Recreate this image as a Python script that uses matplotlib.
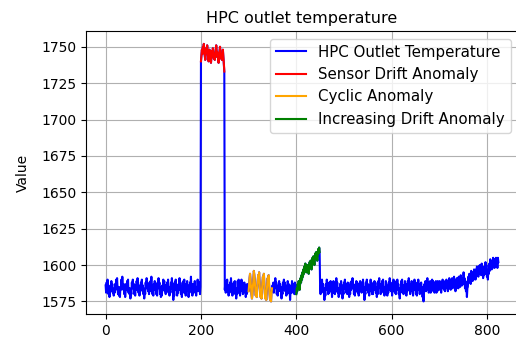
import numpy as np
import matplotlib
matplotlib.use("Agg")
import matplotlib.pyplot as plt

# Segment values (index increments by 1)
normal_1 = [
    1586, 1581, 1588, 1585, 1590, 1583, 1580, 1584, 1578, 1583,
    1586, 1582, 1589, 1584, 1587, 1581, 1583, 1579, 1584, 1581,
    1587, 1583, 1590, 1586, 1591, 1584, 1580, 1585, 1579, 1582,
    1578, 1585, 1583, 1590, 1585, 1592, 1586, 1583, 1587, 1580,
    1584, 1578, 1582, 1587, 1583, 1589, 1586, 1590, 1581, 1584,
    1580, 1584, 1577, 1582, 1580, 1588, 1584, 1590, 1585, 1587,
    1580, 1585, 1579, 1586, 1583, 1589, 1586, 1591, 1584, 1581,
    1585, 1579, 1586, 1582, 1588, 1585, 1590, 1583, 1586, 1580,
    1584, 1577, 1583, 1580, 1588, 1584, 1591, 1585, 1588, 1582,
    1586, 1580, 1585, 1582, 1589, 1586, 1592, 1584, 1580, 1584,
    1579, 1587, 1583, 1589, 1584, 1587, 1580, 1584, 1579, 1588,
    1584, 1591, 1586, 1588, 1580, 1585, 1578, 1582, 1579, 1586,
    1583, 1590, 1585, 1589, 1582, 1586, 1580, 1585, 1582, 1588,
    1584, 1590, 1581, 1585, 1579, 1584, 1581, 1588, 1584, 1591,
    1585, 1587, 1576, 1582, 1579, 1588, 1583, 1590, 1584, 1586,
    1579, 1584, 1581, 1587, 1583, 1591, 1586, 1588, 1580, 1583,
    1578, 1586, 1581, 1589, 1585, 1590, 1581, 1585, 1579, 1587,
    1582, 1589, 1583, 1586, 1578, 1584, 1581, 1588, 1585, 1592,
    1584, 1587, 1579, 1585, 1581, 1587, 1583, 1589, 1581, 1584,
    1579, 1585, 1582, 1590, 1584, 1587, 1582, 1588, 1580, 1585,
]
sensor_drift = [
    1740, 1744, 1748, 1745, 1750, 1747, 1752, 1748, 1744, 1741,
    1745, 1749, 1746, 1751, 1747, 1743, 1740, 1744, 1748, 1745,
    1742, 1739, 1743, 1747, 1744, 1749, 1746, 1742, 1745, 1741,
    1744, 1748, 1751, 1747, 1743, 1746, 1742, 1739, 1743, 1747,
    1750, 1746, 1742, 1745, 1741, 1744, 1748, 1743, 1739, 1733,
]
normal_2 = [
    1583, 1587, 1581, 1589, 1585, 1590, 1582, 1586, 1579, 1584,
    1581, 1588, 1583, 1591, 1585, 1587, 1579, 1584, 1581, 1588,
    1583, 1589, 1580, 1584, 1577, 1583, 1580, 1589, 1584, 1590,
    1581, 1586, 1579, 1585, 1582, 1590, 1585, 1588, 1580, 1586,
    1581, 1588, 1583, 1586, 1578, 1583, 1580, 1587, 1582, 1586,
]
cyclic = [
    1582, 1586, 1591, 1594, 1590, 1585, 1580, 1577, 1580, 1585,
    1590, 1596, 1593, 1589, 1583, 1579, 1582, 1578, 1584, 1589,
    1593, 1590, 1595, 1588, 1582, 1578, 1581, 1577, 1583, 1588,
    1592, 1589, 1594, 1587, 1581, 1577, 1580, 1576, 1582, 1587,
    1591, 1588, 1593, 1586, 1580, 1576, 1579, 1575, 1581, 1584,
]
normal_3 = [
    1586, 1583, 1588, 1581, 1587, 1584, 1591, 1585, 1588, 1580,
    1584, 1579, 1586, 1582, 1589, 1583, 1587, 1582, 1585, 1577,
    1583, 1580, 1588, 1583, 1590, 1585, 1588, 1582, 1586, 1579,
    1584, 1580, 1589, 1584, 1587, 1581, 1584, 1576, 1582, 1586,
    1581, 1589, 1584, 1587, 1581, 1585, 1580, 1588, 1583, 1586,
]
increasing_drift = [
    1580, 1584, 1582, 1587, 1585, 1589, 1586, 1583, 1587, 1591,
    1588, 1593, 1590, 1595, 1592, 1597, 1594, 1599, 1596, 1601,
    1598, 1595, 1599, 1596, 1600, 1597, 1594, 1598, 1602, 1599,
    1603, 1600, 1597, 1601, 1605, 1602, 1606, 1603, 1600, 1604,
    1608, 1605, 1609, 1606, 1603, 1607, 1611, 1608, 1612, 1609,
]
normal_4 = [
    1585, 1580, 1587, 1583, 1590, 1584, 1587, 1581, 1584, 1576,
    1582, 1579, 1587, 1583, 1590, 1585, 1588, 1580, 1585, 1581,
    1588, 1584, 1589, 1582, 1585, 1578, 1584, 1581, 1589, 1584,
    1587, 1580, 1585, 1582, 1591, 1585, 1588, 1581, 1584, 1578,
    1583, 1580, 1587, 1583, 1589, 1583, 1586, 1577, 1583, 1580,
    1588, 1584, 1590, 1584, 1587, 1581, 1586, 1580, 1588, 1583,
    1586, 1578, 1584, 1580, 1588, 1583, 1589, 1584, 1591, 1585,
    1587, 1580, 1585, 1579, 1586, 1582, 1589, 1584, 1588, 1581,
    1584, 1579, 1587, 1582, 1589, 1583, 1586, 1581, 1588, 1584,
    1590, 1583, 1585, 1576, 1582, 1580, 1588, 1583, 1590, 1584,
    1587, 1581, 1585, 1579, 1586, 1582, 1590, 1584, 1587, 1580,
    1586, 1580, 1588, 1583, 1589, 1583, 1588, 1581, 1584, 1578,
    1585, 1580, 1589, 1584, 1591, 1585, 1587, 1580, 1586, 1582,
    1589, 1584, 1590, 1581, 1585, 1579, 1584, 1581, 1589, 1583,
    1586, 1579, 1585, 1581, 1588, 1583, 1591, 1585, 1588, 1582,
    1586, 1579, 1584, 1582, 1590, 1584, 1587, 1581, 1585, 1580,
    1589, 1583, 1590, 1584, 1587, 1580, 1583, 1577, 1584, 1581,
    1589, 1585, 1590, 1582, 1586, 1580, 1586, 1583, 1589, 1581,
    1584, 1579, 1587, 1582, 1589, 1584, 1591, 1583, 1586, 1580,
    1587, 1582, 1589, 1583, 1586, 1579, 1588, 1583, 1590, 1584,
    1587, 1580, 1584, 1579, 1588, 1583, 1590, 1584, 1587, 1580,
    1586, 1581, 1588, 1582, 1585, 1578, 1584, 1575, 1582, 1587,
    1584, 1589, 1582, 1588, 1583, 1591, 1585, 1588, 1581, 1586,
    1583, 1589, 1581, 1586, 1582, 1590, 1585, 1589, 1583, 1587,
    1581, 1588, 1583, 1589, 1581, 1586, 1582, 1589, 1584, 1588,
]
tail = [
    1583, 1589, 1584, 1587, 1581, 1588, 1584, 1590, 1585, 1589,
    1583, 1587, 1582, 1589, 1584, 1590, 1585, 1588, 1582, 1589,
    1586, 1591, 1584, 1589, 1583, 1590, 1586, 1591, 1584, 1588,
    1585, 1592, 1586, 1590, 1582, 1588, 1584, 1591, 1586, 1589,
    1584, 1592, 1587, 1591, 1585, 1593, 1588, 1591, 1586, 1590,
    1587, 1595, 1589, 1591, 1584, 1589, 1582, 1585, 1578, 1584,
    1585, 1592, 1588, 1594, 1589, 1593, 1587, 1596, 1590, 1593,
    1589, 1595, 1590, 1597, 1592, 1596, 1590, 1597, 1593, 1599,
    1594, 1598, 1592, 1599, 1594, 1600, 1595, 1598, 1593, 1601,
    1596, 1599, 1591, 1596, 1593, 1599, 1594, 1602, 1597, 1600,
    1592, 1595, 1590, 1597, 1594, 1601, 1596, 1604, 1599, 1602,
    1597, 1603, 1598, 1605, 1600, 1604, 1598, 1603, 1600, 1605,
    1599, 1603, 1598, 1605, 1602,
]

segments = [
    ("normal", normal_1), ("sensor", sensor_drift), ("normal", normal_2),
    ("cyclic", cyclic), ("normal", normal_3), ("increasing", increasing_drift),
    ("normal", normal_4), ("normal", tail),
]

values = np.concatenate([np.array(s, dtype=float) for _, s in segments])
x = np.arange(len(values))

ranges = {}
start = 0
for name, seg in segments:
    if name != "normal":
        ranges[name] = (start, start + len(seg))
    start += len(seg)

fig = plt.figure(figsize=(5.16, 3.43), dpi=100)
ax = fig.add_axes([86 / 516, 1 - 314.3 / 343, (518 - 86) / 516, (314.3 - 31) / 343])

ax.plot(x, values, color="blue", label="HPC Outlet Temperature")
s0, s1 = ranges["sensor"]
ax.plot(x[s0:s1], values[s0:s1], color="red", label="Sensor Drift Anomaly")
c0, c1 = ranges["cyclic"]
ax.plot(x[c0:c1], values[c0:c1], color="orange", label="Cyclic Anomaly")
d0, d1 = ranges["increasing"]
ax.plot(x[d0:d1], values[d0:d1], color="green", label="Increasing Drift Anomaly")

ax.set_title("HPC outlet temperature", fontsize=11.5)
ax.set_ylabel("Value", labelpad=8)
ax.grid(True)
ax.legend(loc="upper right", fontsize=10.8)

fig.savefig("out.png", dpi=100)
